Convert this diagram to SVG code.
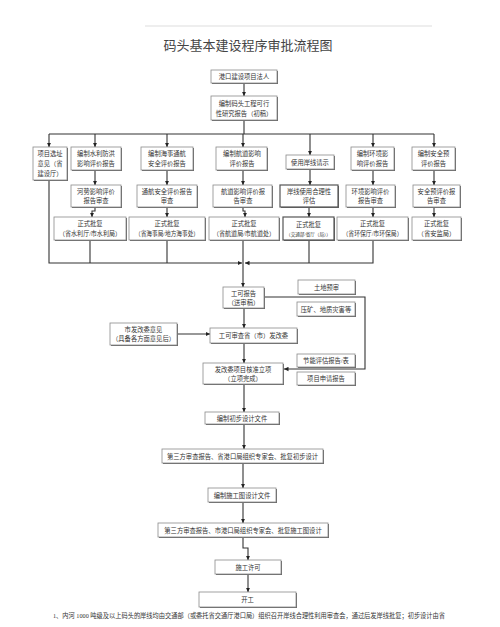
<svg xmlns="http://www.w3.org/2000/svg" width="500" height="627" viewBox="0 0 500 627">
<style>
.sh{fill:#666}
.bx{fill:#fff;stroke:#8a8a8a;stroke-width:0.8}
.t{font-family:"Liberation Serif","Noto Sans CJK SC",serif;font-size:6.3px;fill:#333;text-anchor:middle}
.s{font-size:4.6px}
.c{fill:none;stroke:#333;stroke-width:1.1}
</style>
<defs>
<marker id="a" markerUnits="userSpaceOnUse" markerWidth="5" markerHeight="5" refX="4.5" refY="2.5" orient="auto">
<path d="M0,0.3 L4.5,2.5 L0,4.7 Z" fill="#222"/>
</marker>
</defs>
<rect width="500" height="627" fill="#fff"/>
<line x1="145" y1="26" x2="432" y2="26" stroke="#ddd" stroke-width="1"/>
<text x="248" y="50" class="t" style="font-size:13px;fill:#444">码头基本建设程序审批流程图</text>

<g id="connectors">
<path class="c" d="M244,83 V96" marker-end="url(#a)"/>
<path class="c" d="M244,120 V134 M49,134 H434"/>
<path class="c" d="M49,134 V147" marker-end="url(#a)"/>
<path class="c" d="M95,134 V147" marker-end="url(#a)"/>
<path class="c" d="M167,134 V147" marker-end="url(#a)"/>
<path class="c" d="M243,134 V147" marker-end="url(#a)"/>
<path class="c" d="M310,134 V155" marker-end="url(#a)"/>
<path class="c" d="M373,134 V147" marker-end="url(#a)"/>
<path class="c" d="M434,134 V147" marker-end="url(#a)"/>
<path class="c" d="M95,170 V185" marker-end="url(#a)"/>
<path class="c" d="M167,170 V185" marker-end="url(#a)"/>
<path class="c" d="M243,170 V185" marker-end="url(#a)"/>
<path class="c" d="M310,169 V185" marker-end="url(#a)"/>
<path class="c" d="M373,170 V185" marker-end="url(#a)"/>
<path class="c" d="M434,170 V185" marker-end="url(#a)"/>
<path class="c" d="M95,207 V211 H92 V217" marker-end="url(#a)"/>
<path class="c" d="M167,207 V217" marker-end="url(#a)"/>
<path class="c" d="M243,207 V211 H245 V217" marker-end="url(#a)"/>
<path class="c" d="M309,207 V217" marker-end="url(#a)"/>
<path class="c" d="M373,207 V217" marker-end="url(#a)"/>
<path class="c" d="M434,207 V217" marker-end="url(#a)"/>
<path class="c" d="M49,180 V263 H242" marker-end="url(#a)"/>
<path class="c" d="M90,240 V263 M167,240 V263 M309,240 V263"/>
<path class="c" d="M373,240 V263 H245" marker-end="url(#a)"/>
<path class="c" d="M243,240 V287" marker-end="url(#a)"/>
<path class="c" d="M264,297 H365 V369 H284" marker-end="url(#a)"/>
<path class="c" d="M244,308 V328" marker-end="url(#a)"/>
<path class="c" d="M177,334 H210" marker-end="url(#a)"/>
<path class="c" d="M244,343 V363" marker-end="url(#a)"/>
<path class="c" d="M244,384 V412" marker-end="url(#a)"/>
<path class="c" d="M244,424 V449" marker-end="url(#a)"/>
<path class="c" d="M243,463 V488" marker-end="url(#a)"/>
<path class="c" d="M243,502 V523" marker-end="url(#a)"/>
<path class="c" d="M243,537 V548 H248 V560" marker-end="url(#a)"/>
<path class="c" d="M248,574 V592" marker-end="url(#a)"/>
</g>

<g id="n1"><rect class="sh" x="212" y="71" width="66" height="13"/><rect class="bx" x="211" y="70" width="66" height="13"/><text class="t" x="244" y="79">港口建设项目法人</text></g>
<g id="n2"><rect class="sh" x="212" y="97" width="66" height="24"/><rect class="bx" x="211" y="96" width="66" height="24"/><text class="t" x="244" y="106">编制码头工程可行</text><text class="t" x="244" y="116">性研究报告（初稿）</text></g>

<g id="c1"><rect class="sh" x="34" y="148" width="34" height="33"/><rect class="bx" x="33" y="147" width="34" height="33"/><text class="t" x="50" y="156">项目选址</text><text class="t" x="50" y="166">意见（省</text><text class="t" x="50" y="176">建设厅）</text></g>

<g id="c2a"><rect class="sh" x="72" y="148" width="50" height="23"/><rect class="bx" x="71" y="147" width="50" height="23"/><text class="t" x="96" y="156">编制水利防洪</text><text class="t" x="96" y="166">影响评价报告</text></g>
<g id="c2b"><rect class="sh" x="72" y="186" width="50" height="22"/><rect class="bx" x="71" y="185" width="50" height="22"/><text class="t" x="96" y="194">河势影响评价</text><text class="t" x="96" y="203">报告审查</text></g>
<g id="c2c"><rect class="sh" x="55" y="218" width="72" height="23"/><rect class="bx" x="54" y="217" width="72" height="23"/><text class="t" x="90" y="226">正式批复</text><text class="t" x="90" y="236" textLength="62" lengthAdjust="spacingAndGlyphs">（省水利厅/市水利局）</text></g>

<g id="c3a"><rect class="sh" x="142" y="148" width="52" height="23"/><rect class="bx" x="141" y="147" width="52" height="23"/><text class="t" x="167" y="156">编制海事通航</text><text class="t" x="167" y="166">安全评价报告</text></g>
<g id="c3b"><rect class="sh" x="138" y="186" width="60" height="22"/><rect class="bx" x="137" y="185" width="60" height="22"/><text class="t" x="167" y="194">通航安全评价报告</text><text class="t" x="167" y="203">审查</text></g>
<g id="c3c"><rect class="sh" x="130" y="218" width="76" height="23"/><rect class="bx" x="129" y="217" width="76" height="23"/><text class="t" x="167" y="226">正式批复</text><text class="t" x="167" y="236" textLength="64" lengthAdjust="spacingAndGlyphs">（省海事局/地方海事处）</text></g>

<g id="c4a"><rect class="sh" x="217" y="148" width="51" height="23"/><rect class="bx" x="216" y="147" width="51" height="23"/><text class="t" x="242" y="156">编制航道影响</text><text class="t" x="242" y="166">评价报告</text></g>
<g id="c4b"><rect class="sh" x="214" y="186" width="59" height="22"/><rect class="bx" x="213" y="185" width="59" height="22"/><text class="t" x="243" y="194">航道影响评价报</text><text class="t" x="243" y="203">告审查</text></g>
<g id="c4c"><rect class="sh" x="210" y="218" width="70" height="23"/><rect class="bx" x="209" y="217" width="70" height="23"/><text class="t" x="244" y="226">正式批复</text><text class="t" x="244" y="236" textLength="62" lengthAdjust="spacingAndGlyphs">（省航道局/市航道处）</text></g>

<g id="c5a"><rect class="sh" x="287" y="156" width="48" height="14"/><rect class="bx" x="286" y="155" width="48" height="14"/><text class="t" x="310" y="164.5">使用岸线请示</text></g>
<g id="c5b"><rect class="sh" x="281" y="186" width="58" height="22"/><rect class="bx" x="280" y="185" width="58" height="22" style="stroke:#555;stroke-width:1.2"/><text class="t" x="309" y="194">岸线使用合理性</text><text class="t" x="309" y="203">评估</text></g>
<g id="c5c"><rect class="sh" x="284" y="218" width="51" height="23"/><rect class="bx" x="283" y="217" width="51" height="23" style="stroke:#555;stroke-width:1.2"/><text class="t" x="308.5" y="227">正式批复</text><text class="t s" x="308.5" y="236">（交通部/省厅（局））</text></g>

<g id="c6a"><rect class="sh" x="352" y="148" width="43" height="23"/><rect class="bx" x="351" y="147" width="43" height="23"/><text class="t" x="372.5" y="156">编制环境影</text><text class="t" x="372.5" y="166">响评价报告</text></g>
<g id="c6b"><rect class="sh" x="347" y="186" width="49" height="22"/><rect class="bx" x="346" y="185" width="49" height="22"/><text class="t" x="370.5" y="194">环境影响评价</text><text class="t" x="370.5" y="203">报告审查</text></g>
<g id="c6c"><rect class="sh" x="338" y="218" width="71" height="23"/><rect class="bx" x="337" y="217" width="71" height="23"/><text class="t" x="372.5" y="226">正式批复</text><text class="t" x="372.5" y="236" textLength="60" lengthAdjust="spacingAndGlyphs">（省环保厅/市环保局）</text></g>

<g id="c7a"><rect class="sh" x="413" y="148" width="43" height="23"/><rect class="bx" x="412" y="147" width="43" height="23"/><text class="t" x="433.5" y="156">编制安全预</text><text class="t" x="433.5" y="166">评价报告</text></g>
<g id="c7b"><rect class="sh" x="414" y="186" width="47" height="22"/><rect class="bx" x="413" y="185" width="47" height="22"/><text class="t" x="436.5" y="194">安全预评价报</text><text class="t" x="436.5" y="203">告审查</text></g>
<g id="c7c"><rect class="sh" x="413" y="218" width="49" height="23"/><rect class="bx" x="412" y="217" width="49" height="23"/><text class="t" x="436.5" y="226">正式批复</text><text class="t" x="436.5" y="236">（省安监局）</text></g>

<g id="gk"><rect class="sh" x="224" y="288" width="41" height="21"/><rect class="bx" x="223" y="287" width="41" height="21"/><text class="t" x="243.5" y="296">工可报告</text><text class="t" x="243.5" y="305">（送审稿）</text></g>
<g id="td"><rect class="sh" x="299" y="281" width="57" height="14"/><rect class="bx" x="298" y="280" width="57" height="14"/><text class="t" x="326.5" y="289.5">土地预审</text></g>
<g id="yk"><rect class="sh" x="298" y="303" width="58" height="14"/><rect class="bx" x="297" y="302" width="58" height="14"/><text class="t" x="326" y="311.5">压矿、地质灾害等</text></g>
<g id="sfg"><rect class="sh" x="111" y="324" width="67" height="22"/><rect class="bx" x="110" y="323" width="67" height="22"/><text class="t" x="143.5" y="332">市发改委意见</text><text class="t" x="143.5" y="341">（具备各方面意见后）</text></g>
<g id="gksc"><rect class="sh" x="211" y="329" width="87" height="15"/><rect class="bx" x="210" y="328" width="87" height="15"/><text class="t" x="253.5" y="338">工可审查省（市）发改委</text></g>
<g id="jn"><rect class="sh" x="298" y="355" width="58" height="13"/><rect class="bx" x="297" y="354" width="58" height="13"/><text class="t" x="326" y="363">节能评估报告/表</text></g>
<g id="hz"><rect class="sh" x="204" y="364" width="80" height="21"/><rect class="bx" x="203" y="363" width="80" height="21"/><text class="t" x="243" y="372">发改委项目核准立项</text><text class="t" x="243" y="381">（立项完成）</text></g>
<g id="sq"><rect class="sh" x="298" y="373" width="58" height="13"/><rect class="bx" x="297" y="372" width="58" height="13"/><text class="t" x="326" y="381">项目申请报告</text></g>

<g id="cb"><rect class="sh" x="206" y="413" width="74" height="12"/><rect class="bx" x="205" y="412" width="74" height="12"/><text class="t" x="242" y="420.5">编制初步设计文件</text></g>
<g id="sc1"><rect class="sh" x="163" y="450" width="161" height="14"/><rect class="bx" x="162" y="449" width="161" height="14"/><text class="t" x="242.5" y="458.5">第三方审查报告、省港口局组织专家会、批复初步设计</text></g>
<g id="sgt"><rect class="sh" x="209" y="489" width="68" height="14"/><rect class="bx" x="208" y="488" width="68" height="14"/><text class="t" x="242" y="497.5">编制施工图设计文件</text></g>
<g id="sc2"><rect class="sh" x="159" y="524" width="170" height="14"/><rect class="bx" x="158" y="523" width="170" height="14"/><text class="t" x="243" y="532.5">第三方审查报告、市港口局组织专家会、批复施工图设计</text></g>
<g id="xk"><rect class="sh" x="216" y="561" width="66" height="14"/><rect class="bx" x="215" y="560" width="66" height="14"/><text class="t" x="248" y="569.5">施工许可</text></g>
<g id="kg"><rect class="sh" x="200" y="593" width="97" height="15"/><rect class="bx" x="199" y="592" width="97" height="15"/><text class="t" x="247.5" y="602">开工</text></g>

<text class="t" x="249" y="618" textLength="392" lengthAdjust="spacingAndGlyphs">1、内河 1000 吨级及以上码头的岸线均由交通部（或委托省交通厅港口局）组织召开岸线合理性利用审查会，通过后发岸线批复；初步设计由省</text>
</svg>
